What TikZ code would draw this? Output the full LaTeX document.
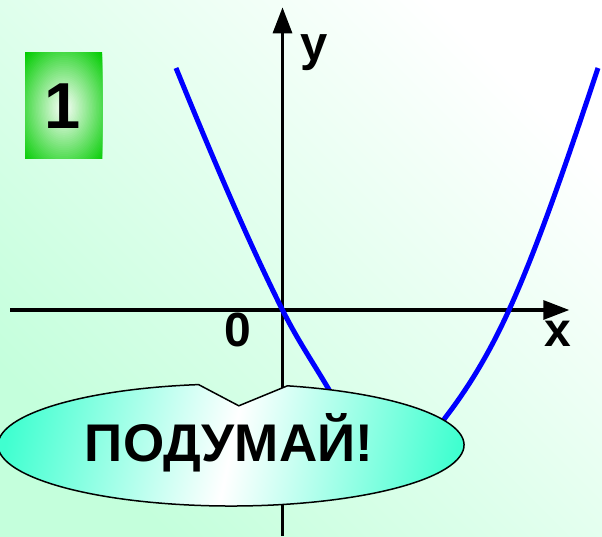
\documentclass[tikz,border=0pt]{standalone}
\usepackage{fontspec}
\setmainfont{Liberation Sans}
\usetikzlibrary{arrows.meta,calc}
\definecolor{mint}{RGB}{196,255,220}
\definecolor{boxgreen}{RGB}{0,204,0}
\definecolor{aqua}{RGB}{64,255,208}
\pgfdeclarehorizontalshading{callshade}{100bp}{color(0bp)=(aqua); color(25bp)=(aqua); color(50bp)=(white); color(75bp)=(aqua); color(100bp)=(aqua)}
\begin{document}
\begin{tikzpicture}[x=1pt,y=-1pt,
  axisline/.style={line width=3.2pt,-{Triangle[length=26pt,width=19pt]}},
  bigbold/.style={font=\fontsize{#1}{#1}\selectfont\bfseries,inner sep=0pt,anchor=base},
  curve/.style={blue,line width=5pt},
  bubble/.style={draw=black,line width=1.5pt,shading=callshade,shading angle=-12}]
\useasboundingbox (0,0) rectangle (602,536);
\shade[bottom color=mint,top color=white,shading angle=-45] (0,0) rectangle (602,536);
% numbered box
\coordinate (boxc) at (64,108);
\begin{scope}
\clip (25,52) rectangle (102,158);
\fill[boxgreen] (25,52) rectangle (102,158);
\foreach \i in {40,39,...,1}{
  \pgfmathsetmacro{\pc}{100*\i/40}
  \fill[boxgreen!\pc!white] (boxc) ellipse [x radius={56*\i/40}, y radius={77*\i/40}];
}
\end{scope}
\node[bigbold=65] (num) at (62.4,128.3) {1};
% axes
\coordinate (xs) at (10,310);
\coordinate (xe) at (569.3,310);
\coordinate (ys) at (282.5,536);
\coordinate (ye) at (282.5,7.3);
\draw[axisline] (xs) -- (xe);
\draw[axisline] (ys) -- (ye);
% curve
\coordinate (p0) at (176,68);
\coordinate (p1) at (282.5,310);
\coordinate (p2) at (328,388);
\coordinate (pv) at (390,458);
\coordinate (p3) at (445,418);
\coordinate (p4) at (509,310);
\coordinate (p5) at (598,68);
\draw[curve] (p0) .. controls (211.5,155) and (247,239) .. (p1)
  .. controls (297.7,340.3) and (312.8,362.2) .. (p2)
  .. controls (348.7,423.2) and (369.3,458) .. (pv)
  .. controls (408.3,458) and (426.7,449) .. (p3)
  .. controls (466.3,390.3) and (487.7,356.9) .. (p4)
  .. controls (538.7,244.7) and (568.3,157) .. (p5);
% callout
\coordinate (cc) at (231,445);
\coordinate (notch) at (238.8,405.8);
\shadedraw[bubble] ($(cc)+(-98:233 and 61)$) -- (notch) -- ($(cc)+(-76:233 and 61)$) arc[start angle=-76,end angle=262,x radius=233,y radius=61] -- cycle;
\node[bigbold=53] (think) at (229,461.7) {ПОДУМАЙ!};
% labels
\node[bigbold=49,anchor=base west] (ylab) at (300.5,60.5) {y};
\node[bigbold=48,anchor=base west] (xlab) at (544,346.7) {x};
\node[bigbold=48] (zero) at (238,346) {0};
\end{tikzpicture}
\end{document}
